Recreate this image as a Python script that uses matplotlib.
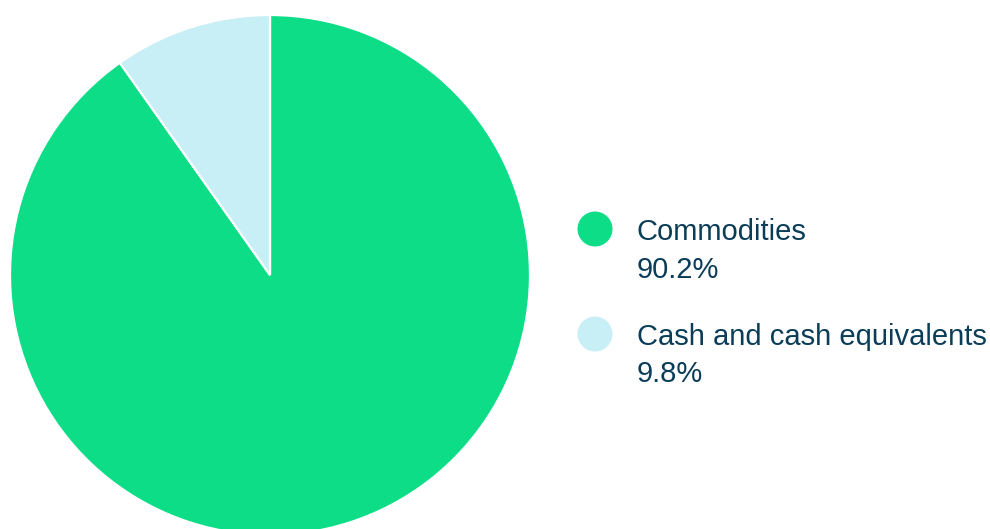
import matplotlib
matplotlib.use("Agg")
import matplotlib.pyplot as plt

categories = ["Commodities", "Cash and cash equivalents"]
values = [90.2, 9.8]
value_labels = ["90.2%", "9.8%"]
colors = ["#0edd88", "#c8eff5"]
text_color = "#0b3d58"

W, H = 990, 529
fig = plt.figure(figsize=(W / 100, H / 100), dpi=100)
fig.patch.set_facecolor("white")

# pie axes: center (270, 275) px, radius 260 px
cx, cy, r = 270, 275, 260
ax = fig.add_axes([(cx - r) / W, (H - cy - r) / H, 2 * r / W, 2 * r / H])
ax.pie(values, colors=colors, startangle=90, counterclock=False,
       radius=1.0, wedgeprops=dict(edgecolor="white", linewidth=1.6))
ax.set_xlim(-1, 1)
ax.set_ylim(-1, 1)
ax.set_aspect("equal")
ax.axis("off")

# legend overlay in pixel coordinates
lax = fig.add_axes([0, 0, 1, 1], facecolor="none")
lax.set_xlim(0, W)
lax.set_ylim(H, 0)
lax.axis("off")
marker_y = [229, 334]
name_y = [240, 345]
val_y = [278, 382]
for i, (cat, lab) in enumerate(zip(categories, value_labels)):
    lax.scatter([595], [marker_y[i]], s=(35 * 0.72) ** 2, color=colors[i],
                edgecolors="none", zorder=3)
    lax.text(637, name_y[i], cat, fontsize=21, color=text_color,
             family="Liberation Sans", va="baseline", ha="left")
    lax.text(637, val_y[i], lab, fontsize=21, color=text_color,
             family="Liberation Sans", va="baseline", ha="left")

fig.savefig("out.png", dpi=100, facecolor="white")
